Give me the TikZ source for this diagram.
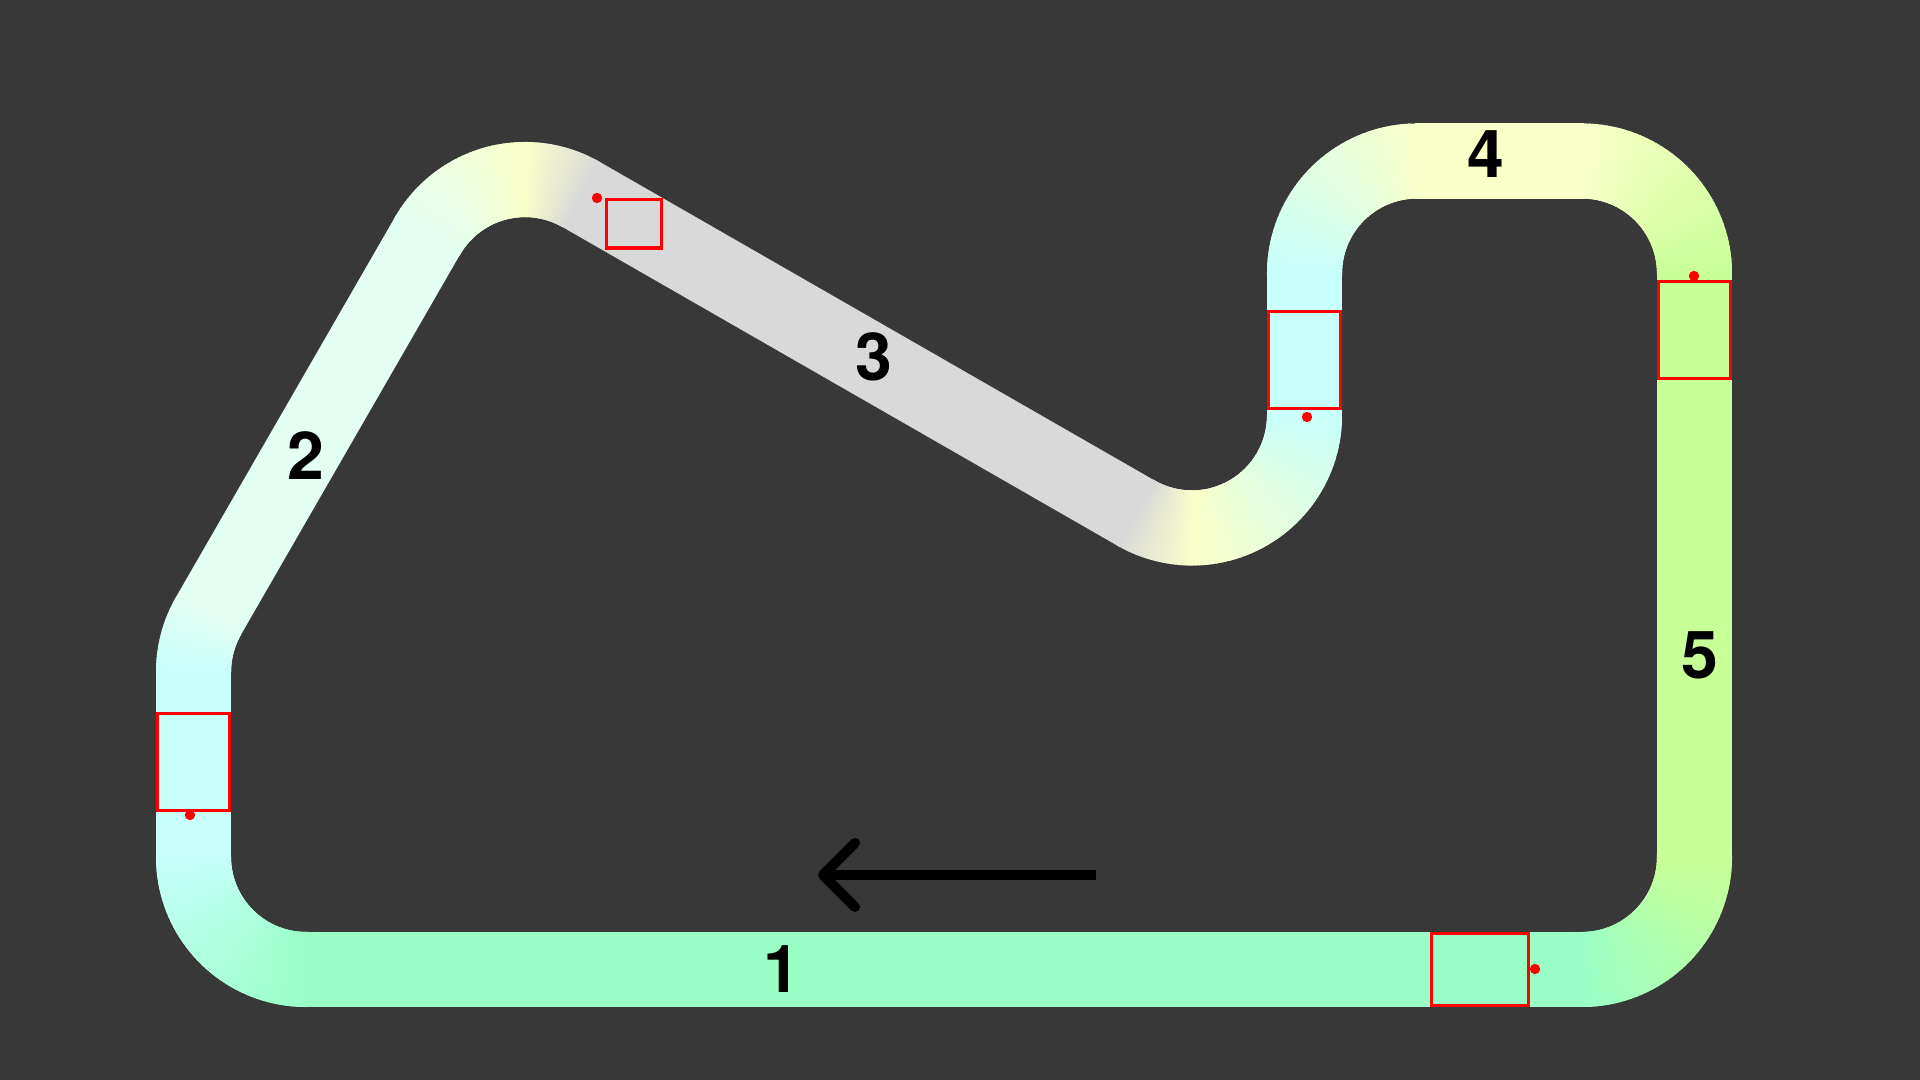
\documentclass[tikz,border=0pt]{standalone}
\usepackage{fontspec}
\setsansfont{TeX Gyre Heros}
\usepackage[dvipsnames]{xcolor}
\usetikzlibrary{arrows.meta,calc}

\definecolor{trackbg}{HTML}{383838}
\definecolor{trackmint}{HTML}{99FFC7}
\definecolor{trackcyan}{HTML}{C7FFFB}
\definecolor{trackpale}{HTML}{E3FFF3}
\definecolor{trackyellow}{HTML}{FAFFC9}
\definecolor{trackgray}{HTML}{D9D9D9}
\definecolor{trackgreen}{HTML}{C8FF96}

\tikzset{
    trackline/.style={line width=21.34pt, line cap=butt, shorten >=-0.6pt, shorten <=-0.6pt},
    trackbend/.style={line width=21.34pt, line cap=butt},
    sensorbox/.style={draw=red, line width=0.9pt, inner sep=0pt},
    sensordot/.style={circle, fill=red, inner sep=0pt, minimum size=2.95pt},
    tracklabel/.style={font=\sffamily\bfseries\fontsize{18.8}{19}\selectfont, text=black, inner sep=0pt},
}

% one arc of the track, colour running from #4 to #5
\newcommand{\trackarc}[5]{
    \foreach \i in {1,...,40} {
        \pgfmathsetmacro{\angA}{#2+(#3-(#2))*(\i-1)/40}
        \pgfmathsetmacro{\angB}{#2+(#3-(#2))*(\i+1)/40}
        \pgfmathsetmacro{\mixp}{100*\i/40}
        \draw[trackbend, draw=#5!\mixp!#4] ($(#1)+(\angA:112.5)$) arc[start angle=\angA, end angle=\angB, radius=112.5];
    }
}

\begin{document}
\begin{tikzpicture}[x=0.01cm, y=-0.01cm]
    \useasboundingbox (0, 0) rectangle (1920, 1080);
    \fill[trackbg] (-10, -10) rectangle (1930, 1090);

    \coordinate (cBL) at (306, 857);
    \coordinate (cBR) at (1582, 857);
    \coordinate (cTR) at (1582, 273.5);
    \coordinate (cTL) at (1417, 273.5);
    \coordinate (cS) at (1192, 415.5);
    \coordinate (cTop) at (525, 292);
    \coordinate (cLow) at (306, 672);

    % straights
    \draw[trackline, draw=trackmint] ($(cBL)+(0, 112.5)$) -- ($(cBR)+(0, 112.5)$);
    \draw[trackline, draw=trackgreen] ($(cBR)+(112.5, 0)$) -- ($(cTR)+(112.5, 0)$);
    \draw[trackline, draw=trackyellow] ($(cTR)+(0, -112.5)$) -- ($(cTL)+(0, -112.5)$);
    \draw[trackline, draw=trackcyan] ($(cTL)+(-112.5, 0)$) -- ($(cS)+(112.5, 0)$);
    \draw[trackline, draw=trackgray] ($(cS)+(120:112.5)$) -- ($(cTop)+(-60:112.5)$);
    \draw[trackline, draw=trackpale] ($(cTop)+(-150:112.5)$) -- ($(cLow)+(-150:112.5)$);
    \draw[trackline, draw=trackcyan] ($(cLow)+(180:112.5)$) -- ($(cBL)+(180:112.5)$);

    % bends
    \trackarc{cBR}{90}{0}{trackmint}{trackgreen}
    \trackarc{cTR}{0}{-90}{trackgreen}{trackyellow}
    \trackarc{cTL}{-90}{-180}{trackyellow}{trackcyan}
    \trackarc{cS}{0}{90}{trackcyan}{trackyellow}
    \trackarc{cS}{90}{120}{trackyellow}{trackgray}
    \trackarc{cTop}{-60}{-90}{trackgray}{trackyellow}
    \trackarc{cTop}{-90}{-150}{trackyellow}{trackpale}
    \trackarc{cLow}{-150}{-180}{trackpale}{trackcyan}
    \trackarc{cBL}{180}{90}{trackcyan}{trackmint}

    % sensors
    \node[sensorbox, minimum width=.97cm, minimum height=.72cm] (box1) at (1480, 969.5) {};
    \node[sensorbox, minimum width=.72cm, minimum height=.97cm] (box2) at (193.5, 762) {};
    \node[sensorbox, minimum width=.55cm, minimum height=.485cm] (box3) at (634, 223.75) {};
    \node[sensorbox, minimum width=.72cm, minimum height=.97cm] (box4) at (1304.5, 360) {};
    \node[sensorbox, minimum width=.72cm, minimum height=.97cm] (box5) at (1694.5, 330) {};

    \node[sensordot] (dot1) at (1535, 969) {};
    \node[sensordot] (dot2) at (190, 815) {};
    \node[sensordot] (dot3) at (597, 198) {};
    \node[sensordot] (dot4) at (1307, 417) {};
    \node[sensordot] (dot5) at (1694, 276) {};

    \node[tracklabel] (num1) at (782, 969) {1};
    \node[tracklabel] (num2) at (306, 456) {2};
    \node[tracklabel] (num3) at (874, 357) {3};
    \node[tracklabel] (num4) at (1486, 154) {4};
    \node[tracklabel] (num5) at (1700, 655) {5};

    \coordinate (arrowtail) at (1096, 875);
    \coordinate (arrowtip) at (818, 875);
    \draw[line width=2.85pt, -{Straight Barb[length=9.1pt, width=18.2pt, round]}] (arrowtail) -- (arrowtip);
\end{tikzpicture}
\end{document}
